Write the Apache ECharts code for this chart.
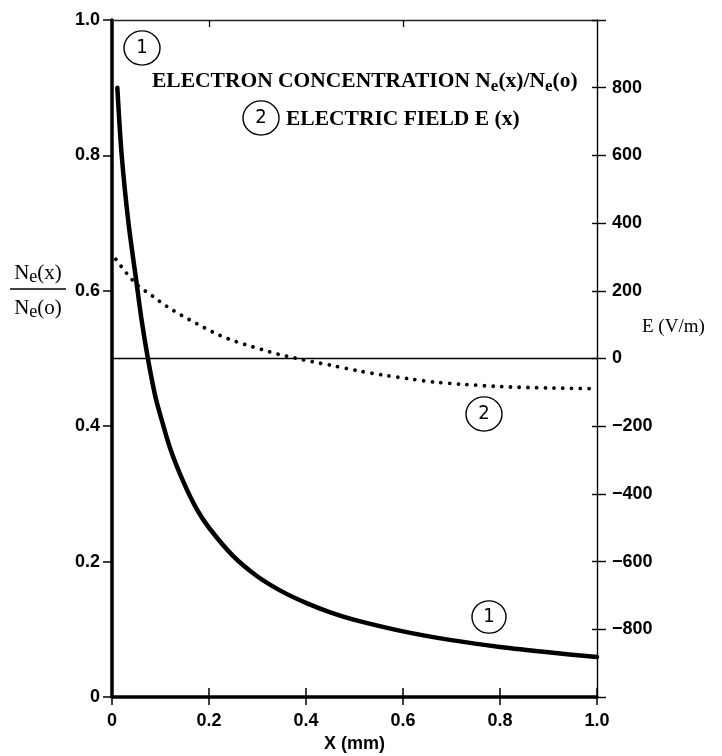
<!DOCTYPE html>
<html><head><meta charset="utf-8">
<script src="https://cdn.jsdelivr.net/npm/echarts@6/dist/echarts.min.js"></script>
<style>html,body{margin:0;padding:0;background:#fff}#c{width:722px;height:756px}</style>
</head><body><div id="c"></div>
<script>
// ---- data ----
const xTicks = [0, 0.2, 0.4, 0.6, 0.8, 1.0];
const leftTicks = [0, 0.2, 0.4, 0.6, 0.8, 1.0];
const rightTicks = [-800, -600, -400, -200, 0, 200, 400, 600, 800];
const topTickMarks = [0.2, 0.6];
// curve 1: electron concentration Ne(x)/Ne(o)
const neX   = [0.011, 0.02, 0.034, 0.05, 0.061, 0.074, 0.089, 0.099, 0.12, 0.147, 0.175, 0.2, 0.25, 0.3, 0.35, 0.4, 0.45, 0.5, 0.6, 0.7, 0.8, 0.9, 1.0];
const neVal = [0.90, 0.80, 0.70, 0.615, 0.557, 0.50, 0.445, 0.418, 0.367, 0.318, 0.277, 0.25, 0.208, 0.178, 0.156, 0.139, 0.125, 0.114, 0.097, 0.084, 0.074, 0.066, 0.059];
// curve 2: electric field E(x) in V/m
const eX   = [0.008, 0.03, 0.053, 0.083, 0.113, 0.144, 0.176, 0.208, 0.24, 0.275, 0.31, 0.344, 0.379, 0.415, 0.452, 0.506, 0.559, 0.613, 0.667, 0.72, 0.8, 0.9, 1.0];
const eVal = [293, 252, 216, 185, 154, 127, 102, 78, 58, 41, 26, 12, 1, -10, -20, -36, -49, -60, -70, -76, -83, -87, -89];

const SANS = "'Liberation Sans', Arial, sans-serif";
const NARROW = "'Liberation Sans Narrow', 'DejaVu Sans Condensed', 'Liberation Sans', sans-serif";
const SERIF = "'Liberation Serif', 'Times New Roman', serif";
const tickFont = {fontFamily: SANS, fontWeight: 'bold', fontSize: 18, color: '#000'};

const chart = echarts.init(document.getElementById('c'), null, {renderer: 'canvas'});

function circ(cx, cy, r, label) {
  return [
    {type: 'ellipse', shape: {cx: cx, cy: cy, rx: r, ry: r * 0.95}, style: {fill: 'none', stroke: '#000', lineWidth: 1.4}, silent: true},
    {type: 'text', x: cx, y: cy, style: {text: label, fontFamily: NARROW, fontSize: 20, fill: '#000', align: 'center', verticalAlign: 'middle'}, silent: true}
  ];
}
const richSerif = {
  n: {fontFamily: SERIF, fontWeight: 'bold', fontSize: 21.5, lineHeight: 28, verticalAlign: 'middle', color: '#000'},
  s: {fontFamily: SERIF, fontWeight: 'bold', fontSize: 17, lineHeight: 16, verticalAlign: 'bottom', color: '#000'}
};
const richFrac = {
  n: {fontFamily: SERIF, fontSize: 21, lineHeight: 26, verticalAlign: 'middle', color: '#000'},
  s: {fontFamily: SERIF, fontSize: 18, lineHeight: 16, verticalAlign: 'bottom', color: '#000'}
};
const noZero = {onZero: false};

const option = {
  backgroundColor: '#fff',
  animation: false,
  grid: {left: 112, right: 125, top: 20, bottom: 59, containLabel: false, outerBoundsMode: 'none'},
  xAxis: [
    {type: 'value', position: 'bottom', min: 0, max: 1, interval: 0.2,
     axisLine: {show: true, ...noZero, lineStyle: {color: '#000', width: 3.5}},
     axisTick: {show: true, inside: false, length: 8, lineStyle: {color: '#000', width: 1.5}},
     axisLabel: {show: true, margin: 15, ...tickFont, formatter: v => xTicks.indexOf(+v.toFixed(1)) < 0 ? '' : (v === 0 ? '0' : v.toFixed(1))},
     splitLine: {show: false},
     name: 'X (mm)', nameLocation: 'middle', nameGap: 38,
     nameTextStyle: {fontFamily: SANS, fontWeight: 'bold', fontSize: 18, color: '#000'}},
    {type: 'value', position: 'bottom', min: 0, max: 1, interval: 0.2,
     axisLine: {show: false, ...noZero}, axisTick: {show: true, inside: true, length: 9, lineStyle: {color: '#000', width: 1.5}},
     axisLabel: {show: false}, splitLine: {show: false}},
    {type: 'value', position: 'top', min: 0, max: 1, interval: 0.2,
     axisLine: {show: true, ...noZero, lineStyle: {color: '#222', width: 1.3}},
     axisTick: {show: true, inside: true, length: 7, customValues: topTickMarks, lineStyle: {color: '#000', width: 1.3}},
     axisLabel: {show: false}, splitLine: {show: false}}
  ],
  yAxis: [
    {type: 'value', position: 'left', min: 0, max: 1, interval: 0.2,
     axisLine: {show: true, ...noZero, lineStyle: {color: '#000', width: 3.5}},
     axisTick: {show: true, inside: false, length: 9, lineStyle: {color: '#000', width: 1.5}},
     axisLabel: {show: true, margin: 12, ...tickFont, formatter: v => leftTicks.indexOf(+v.toFixed(1)) < 0 ? '' : (v === 0 ? '0' : v.toFixed(1))},
     splitLine: {show: false}},
    {type: 'value', position: 'right', min: -1000, max: 1000, interval: 200,
     axisLine: {show: true, ...noZero, lineStyle: {color: '#000', width: 1.4}},
     axisTick: {show: true, inside: false, length: 9, lineStyle: {color: '#000', width: 1.4}},
     axisLabel: {show: true, margin: 15, ...tickFont,
       formatter: v => rightTicks.indexOf(v) < 0 ? '' : (v < 0 ? '\u2212' + Math.abs(v) : String(v))},
     splitLine: {show: false}},
    {type: 'value', position: 'right', min: -1000, max: 1000, interval: 200,
     axisLine: {show: false, ...noZero},
     axisTick: {show: true, inside: true, length: 5, lineStyle: {color: '#000', width: 1.4}},
     axisLabel: {show: false}, splitLine: {show: false}}
  ],
  series: [
    {name: 'Ne', type: 'line', xAxisIndex: 0, yAxisIndex: 0, showSymbol: false, smooth: 0.3,
     data: neX.map((x, i) => [x, neVal[i]]),
     lineStyle: {color: '#000', width: 4.5, cap: 'round', join: 'round'}},
    {name: 'E', type: 'line', xAxisIndex: 0, yAxisIndex: 1, showSymbol: false, smooth: 0.3,
     data: eX.map((x, i) => [x, eVal[i]]),
     lineStyle: {color: '#000', width: 3.8, type: [0.01, 8.7], cap: 'round'},
     markLine: {silent: true, symbol: ['none', 'none'], label: {show: false},
       lineStyle: {color: '#000', width: 1.4, type: 'solid'}, data: [{yAxis: 0}]}}
  ],
  graphic: [
    ...circ(142, 48, 18, '1'),
    {type: 'text', x: 152, y: 81, silent: true,
     style: {text: '{n|ELECTRON CONCENTRATION N}{s|e}{n|(x)/N}{s|e}{n|(o)}', rich: richSerif, verticalAlign: 'middle', align: 'left'}},
    ...circ(261, 118, 18, '2'),
    {type: 'text', x: 286, y: 119, silent: true,
     style: {text: '{n|ELECTRIC FIELD E (x)}', rich: richSerif, verticalAlign: 'middle', align: 'left'}},
    ...circ(484, 414, 18, '2'),
    ...circ(489, 617, 17, '1'),
    {type: 'text', x: 38, y: 273, silent: true,
     style: {text: '{n|N}{s|e}{n|(x)}', rich: richFrac, align: 'center', verticalAlign: 'middle'}},
    {type: 'line', shape: {x1: 10, y1: 289, x2: 66, y2: 289}, style: {stroke: '#000', lineWidth: 1.3}, silent: true},
    {type: 'text', x: 38, y: 308, silent: true,
     style: {text: '{n|N}{s|e}{n|(o)}', rich: richFrac, align: 'center', verticalAlign: 'middle'}},
    {type: 'text', x: 642, y: 327, silent: true,
     style: {text: 'E (V/m)', fontFamily: SERIF, fontSize: 19, fill: '#000', align: 'left', verticalAlign: 'middle'}}
  ]
};
chart.setOption(option);
</script>
</body></html>
